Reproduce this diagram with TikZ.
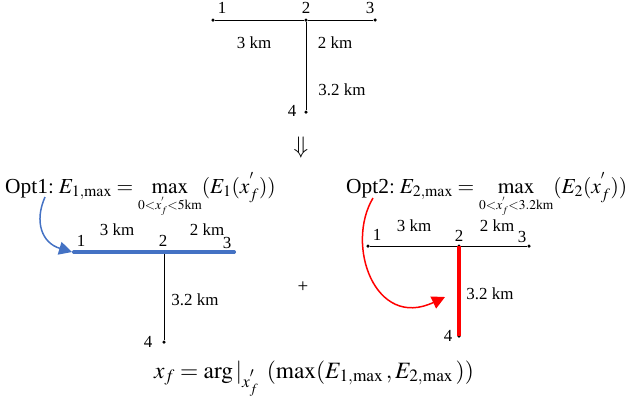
\documentclass[tikz,border=0pt]{standalone}
\usepackage{amsmath}
\usepackage{mathptmx}
\usepackage{fontspec}
\setmainfont{Liberation Serif}
\usetikzlibrary{arrows.meta,positioning}
\newcommand{\limtxt}[1]{\mbox{\fontsize{13.5}{14}\selectfont$#1$}}

\begin{document}
\begin{tikzpicture}[x=1bp,y=-1bp,
    dot/.style={circle,fill=black,inner sep=0pt,minimum size=3.5bp},
    lbl/.style={inner sep=0pt,font=\fontsize{17}{19}\selectfont},
    eqn/.style={inner sep=0pt,anchor=base west,font=\fontsize{21.5}{24}\selectfont}]
    \useasboundingbox (0,0) rectangle (644,396);

    % original feeder
    \node[dot] (t1) at (213,20) {};
    \node[dot] (t2) at (306,20) {};
    \node[dot] (t3) at (375,20) {};
    \node[dot] (t4) at (306,112) {};
    \draw (t1) -- (t2) -- (t3);
    \draw (t2) -- (t4);
    \node[lbl] at (222,8) {1};
    \node[lbl] at (306,8) {2};
    \node[lbl] at (370,8) {3};
    \node[lbl] at (292,111) {4};
    \node[lbl] at (254,43) {3 km};
    \node[lbl] at (335,43) {2 km};
    \node[lbl] at (342,90) {3.2 km};

    \node[inner sep=0pt,font=\fontsize{24}{26}\selectfont] (down) at (301,147) {$\Downarrow$};

    % the two options
    \node[eqn] (opt1) at (5,193) {Opt1$:E_{1,\max}=\max\limits_{\limtxt{0{<}x_f^{'}{<}5\text{km}}}(E_1(x_f^{'}))$};
    \node[eqn] (opt2) at (346,193) {Opt2$:E_{2,\max}=\max\limits_{\limtxt{0{<}x_f^{'}{<}3.2\text{km}}}(E_2(x_f^{'}))$};

    % option 1
    \node[dot] (a1) at (74,252) {};
    \node[dot] (a2) at (164,252) {};
    \node[dot] (a3) at (234,252) {};
    \node[dot] (a4) at (164,342) {};
    \draw (a2) -- (a4);
    \draw[line width=4bp,color={rgb,255:red,68;green,114;blue,196},line cap=round] (a1.center) -- (a3.center);
    \node[lbl] at (81,241) {1};
    \node[lbl] at (163,241) {2};
    \node[lbl] at (227,243) {3};
    \node[lbl] at (148,342) {4};
    \node[lbl] at (117,230) {3 km};
    \node[lbl] at (207,230) {2 km};
    \node[lbl] at (195,300) {3.2 km};
    \coordinate (b0) at (45,197);
    \draw[line width=1.5bp,color={rgb,255:red,68;green,114;blue,196},-{Triangle[length=13bp,width=13bp]}]
        (b0) .. controls (34,222) and (42,243) .. (a1.west);

    \node[font=\fontsize{19}{20}\selectfont] (plus) at (303,287) {+};

    % option 2
    \node[dot] (c1) at (368,246) {};
    \node[dot] (c2) at (459,246) {};
    \node[dot] (c3) at (529,246) {};
    \node[dot] (c4) at (459,336) {};
    \draw (c1) -- (c2) -- (c3);
    \draw[line width=4bp,red] (c2.center) -- (c4.center);
    \node[lbl] at (377,235) {1};
    \node[lbl] at (459,236) {2};
    \node[lbl] at (522,237) {3};
    \node[lbl] at (448,336) {4};
    \node[lbl] at (414,226) {3 km};
    \node[lbl] at (497,226) {2 km};
    \node[lbl] at (490,294) {3.2 km};
    \coordinate (r0) at (373,198);
    \coordinate (r1) at (445,297);
    \draw[line width=1.5bp,red,-{Triangle[length=13bp,width=13bp]}]
        (r0) .. controls (345,245) and (375,330) .. (r1);

    % result
    \node[eqn,font=\fontsize{23.5}{26}\selectfont] (res) at (154,378) {$x_f=\arg|_{x_f^{'}}\;\,(\max(E_{1,\max}\,,E_{2,\max}\,))$};
\end{tikzpicture}
\end{document}
